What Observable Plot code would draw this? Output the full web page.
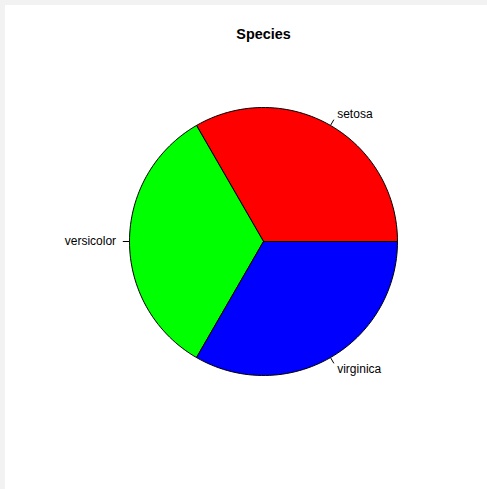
<!DOCTYPE html>
<html>
<head>
<meta charset="utf-8">
<script src="https://cdn.jsdelivr.net/npm/d3@7"></script>
<script src="https://cdn.jsdelivr.net/npm/@observablehq/plot@0.6"></script>
<style>
  html, body { margin: 0; padding: 0; background: #f2f2f2; width: 487px; height: 489px; overflow: hidden; }
  #panel { position: absolute; left: 5px; top: 5px; width: 482px; height: 484px; background: #ffffff; }
  #panel svg { display: block; }
</style>
</head>
<body>
<div id="panel"></div>
<script>
const title = "Species";
const species = ["setosa", "versicolor", "virginica"];
const counts = [50, 50, 50];
const colors = ["#ff0000", "#00ff00", "#0000ff"];

// Build slice polygons on the unit circle (counter-clockwise from 0°, like R's pie)
const total = d3.sum(counts);
const edges = 200;
const polys = [];
const labels = [];
let acc = 0;
species.forEach((s, i) => {
  const t0 = acc / total, t1 = (acc + counts[i]) / total;
  acc += counts[i];
  const n = Math.max(2, Math.floor(edges * (t1 - t0)));
  polys.push({species: s, x: 0, y: 0});
  for (let k = 0; k <= n; k++) {
    const a = 2 * Math.PI * (t0 + (t1 - t0) * k / n);
    polys.push({species: s, x: Math.cos(a), y: Math.sin(a)});
  }
  polys.push({species: s, x: 0, y: 0});
  const am = Math.PI * (t0 + t1);
  labels.push({species: s, c: Math.cos(am), s: Math.sin(am)});
});

const W = 482, H = 484, cx = 258, cy = 236, R = 134;
const chart = Plot.plot({
  width: W, height: H,
  margin: 0,
  x: {domain: [-cx / R, (W - cx) / R], axis: null},
  y: {domain: [(cy - H) / R, cy / R], axis: null},
  color: {domain: species, range: colors},
  style: {fontFamily: "'Liberation Sans', Arial, sans-serif", fontSize: "12px", background: "white"},
  marks: [
    Plot.line(polys, {x: "x", y: "y", z: "species", fill: "species", stroke: "black", strokeWidth: 1, curve: "linear"}),
    Plot.link(labels, {x1: d => d.c, y1: d => d.s, x2: d => 1.05 * d.c, y2: d => 1.05 * d.s, stroke: "black", strokeWidth: 1}),
    Plot.text(labels.filter(d => d.c >= 0), {x: d => 1.1 * d.c, y: d => 1.1 * d.s, text: "species", textAnchor: "start", fill: "black", fontSize: 12}),
    Plot.text(labels.filter(d => d.c < 0), {x: d => 1.1 * d.c, y: d => 1.1 * d.s, text: "species", textAnchor: "end", fill: "black", fontSize: 12}),
    Plot.text([title], {x: () => 0, y: () => (cy - 29) / R, text: d => d, fontWeight: "bold", fontSize: 14.4, fill: "black"})
  ]
});
document.getElementById("panel").appendChild(chart);
</script>
</body>
</html>
